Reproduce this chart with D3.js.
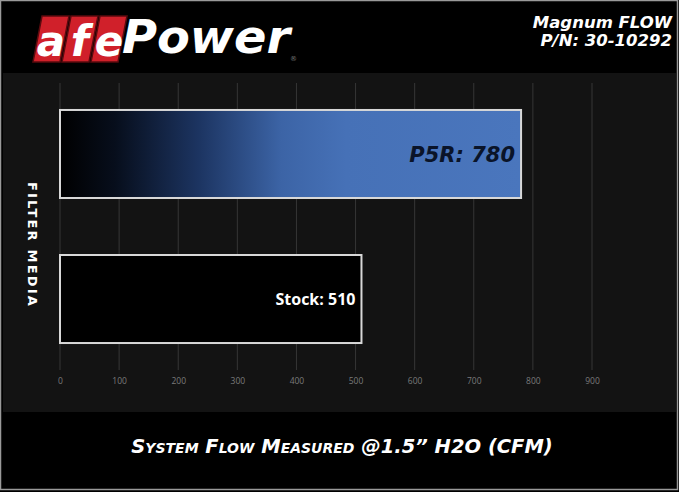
<!DOCTYPE html>
<html><head><meta charset="utf-8">
<script src="https://cdn.jsdelivr.net/npm/d3@7"></script>
<style>html,body{margin:0;padding:0;background:#000;overflow:hidden}</style>
</head><body>
<script>
const categories = ["P5R", "Stock"];
const values = [780, 510];
const barLabels = ["P5R: 780", "Stock: 510"];
const tickValues = [0, 100, 200, 300, 400, 500, 600, 700, 800, 900];
const axisTitle = "System Flow Measured @1.5\u201D H2O (CFM)";
const yTitle = "FILTER MEDIA";
const productLines = ["Magnum FLOW", "P/N: 30-10292"];
const logoBoxed = ["a", "f", "e"];
const logoRest = "Power";

const W = 679, H = 492;
const svg = d3.select("body").append("svg").attr("width", W).attr("height", H);

// backgrounds
svg.append("rect").attr("x", 0).attr("y", 0).attr("width", W).attr("height", H).attr("fill", "#000");
svg.append("rect").attr("x", 3).attr("y", 73).attr("width", 673).attr("height", 339).attr("fill", "#131313");
svg.append("rect").attr("x", 0.5).attr("y", 0.5).attr("width", W - 2).attr("height", H - 3)
  .attr("fill", "none").attr("stroke", "#9a9a9a").attr("stroke-width", 1.5);

const defs = svg.append("defs");
const grad = defs.append("linearGradient").attr("id", "blueGrad").attr("x1", "0%").attr("x2", "100%").attr("y1", "0%").attr("y2", "0%");
[["0%", "#000000"], ["12%", "#070e1c"], ["30%", "#1c3461"], ["48%", "#3c64a6"], ["62%", "#4671b7"], ["100%", "#4a76bd"]]
  .forEach(([o, c]) => grad.append("stop").attr("offset", o).attr("stop-color", c));

// scales
const x = d3.scaleLinear().domain([0, 900]).range([60, 592]);
const y = d3.scaleBand().domain(categories).range([83, 370]).paddingInner(0.393).paddingOuter(0.186);

// grid
svg.append("g").selectAll("line").data(tickValues).join("line")
  .attr("x1", d => x(d)).attr("x2", d => x(d))
  .attr("y1", 83).attr("y2", 370)
  .attr("stroke", "#363636").attr("stroke-width", 1);

// axis labels
const axis = d3.axisBottom(x).tickValues(tickValues).tickSize(0).tickPadding(0);
const ag = svg.append("g").attr("transform", "translate(0,378)").call(axis);
ag.select(".domain").remove();
ag.selectAll("text").attr("fill", "#7a7a7a").attr("font-family", "Open Sans, Liberation Sans, sans-serif").attr("font-size", 8.5);

// bars
const fills = ["url(#blueGrad)", "#000"];
svg.append("g").selectAll("rect").data(categories).join("rect")
  .attr("x", x(0)).attr("y", d => y(d))
  .attr("width", (d, i) => x(values[i]) - x(0))
  .attr("height", y.bandwidth())
  .attr("fill", (d, i) => fills[i])
  .attr("stroke", "#d8d8d8").attr("stroke-width", 2);

// bar labels
svg.append("text").attr("x", x(values[0]) - 6).attr("y", y(categories[0]) + y.bandwidth() / 2 + 8)
  .attr("text-anchor", "end").attr("fill", "#0a1429")
  .attr("font-family", "DejaVu Sans, sans-serif").attr("font-weight", "bold").attr("font-style", "italic")
  .attr("font-size", 21).text(barLabels[0]);
svg.append("text").attr("x", x(values[1]) - 6).attr("y", y(categories[1]) + y.bandwidth() / 2 + 6)
  .attr("text-anchor", "end").attr("fill", "#fff")
  .attr("font-family", "Open Sans, Lato, sans-serif").attr("font-weight", "bold")
  .attr("font-size", 16).text(barLabels[1]);

// y title
svg.append("text").attr("transform", "translate(28,245) rotate(90)")
  .attr("text-anchor", "middle").attr("fill", "#fff")
  .attr("font-family", "DejaVu Sans, sans-serif").attr("font-weight", "bold")
  .attr("font-size", 13).attr("letter-spacing", 2.2).text(yTitle);

// x title
svg.append("text").attr("x", 342).attr("y", 453).attr("text-anchor", "middle").attr("fill", "#fff")
  .attr("font-family", "DejaVu Sans, sans-serif").attr("font-weight", "bold").attr("font-style", "italic")
  .attr("font-variant", "small-caps").attr("font-size", 19.5).attr("letter-spacing", 0).text(axisTitle);

// product text
svg.append("g").selectAll("text").data(productLines).join("text")
  .attr("x", 672).attr("y", (d, i) => 28 + i * 18).attr("text-anchor", "end").attr("fill", "#fff")
  .attr("font-family", "DejaVu Sans, sans-serif").attr("font-weight", "bold").attr("font-style", "italic")
  .attr("font-size", 16.5).text(d => d);

// logo
const logo = svg.append("g");
const bw = 27, bh = 46, skew = 9, bx0 = 33, by0 = 16;
logoBoxed.forEach((ch, i) => {
  const xl = bx0 + i * (bw + 2);
  logo.append("path")
    .attr("d", `M${xl + skew},${by0} L${xl + bw + skew},${by0} L${xl + bw},${by0 + bh} L${xl},${by0 + bh} Z`)
    .attr("fill", "#d0202a").attr("stroke", "#5a0a0e").attr("stroke-width", 1.5);
  logo.append("text").attr("x", xl + bw / 2 + skew / 2).attr("y", by0 + bh - 6).attr("text-anchor", "middle")
    .attr("fill", "#fff").attr("font-family", "DejaVu Sans, sans-serif").attr("font-weight", "bold")
    .attr("font-style", "italic").attr("font-size", 42).text(ch);
});
logo.append("text").attr("x", 122).attr("y", by0 + bh - 9).attr("fill", "#fff")
  .attr("font-family", "DejaVu Sans, sans-serif").attr("font-weight", "bold").attr("font-style", "italic")
  .attr("font-size", 46).attr("textLength", 168).attr("lengthAdjust", "spacingAndGlyphs").text(logoRest);
logo.append("text").attr("x", 290).attr("y", 61).attr("fill", "#777").attr("font-family", "DejaVu Sans, sans-serif")
  .attr("font-size", 7).text("\u00AE");
</script>
</body></html>
